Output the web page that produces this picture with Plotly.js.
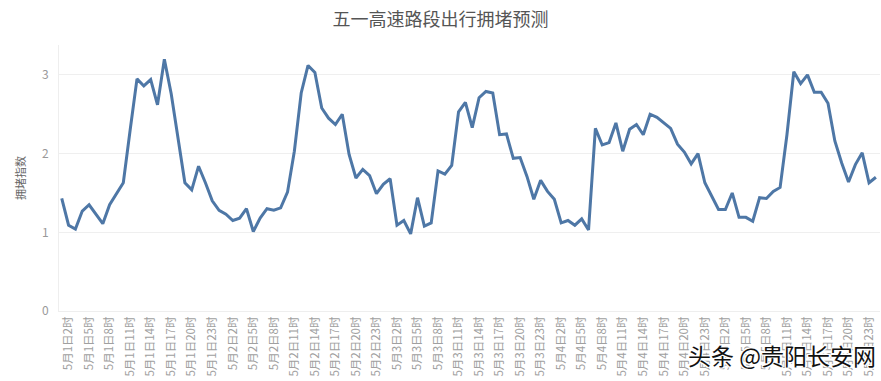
<!DOCTYPE html>
<html>
<head>
<meta charset="utf-8">
<script src="https://cdn.plot.ly/plotly-3.0.1.min.js"></script>
<style>html,body{margin:0;padding:0;background:#fff;}#chart{width:881px;height:381px;}</style>
</head>
<body>
<div id="chart"></div>
<script>
// Dates and hours (hourly, 5月1日1时 .. 5月5日24时)
const days = [1, 2, 3, 4, 5];
const hours = [1,2,3,4,5,6,7,8,9,10,11,12,13,14,15,16,17,18,19,20,21,22,23,24];
const tickHours = [2, 5, 8, 11, 14, 17, 20, 23];

// 拥堵指数 per hour
const day1 = [1.43,1.09,1.04,1.27,1.35,1.23,1.11,1.35,1.49,1.63,2.30,2.95,2.86,2.94,2.62,3.20,2.76,2.20,1.63,1.54,1.84,1.63,1.40,1.28];
const day2 = [1.23,1.15,1.18,1.30,1.01,1.18,1.30,1.28,1.31,1.51,2.03,2.77,3.12,3.03,2.58,2.45,2.37,2.50,1.99,1.69,1.80,1.72,1.49,1.61];
const day3 = [1.68,1.09,1.15,0.98,1.44,1.08,1.12,1.78,1.74,1.85,2.53,2.65,2.33,2.71,2.79,2.77,2.24,2.25,1.94,1.95,1.71,1.42,1.66,1.52];
const day4 = [1.42,1.12,1.15,1.09,1.17,1.03,2.32,2.11,2.14,2.39,2.03,2.31,2.37,2.24,2.50,2.46,2.39,2.32,2.12,2.02,1.87,2.00,1.63,1.46];
const day5 = [1.29,1.29,1.50,1.19,1.19,1.14,1.44,1.43,1.52,1.57,2.24,3.04,2.89,3.00,2.78,2.78,2.64,2.16,1.88,1.64,1.86,2.01,1.63,1.70];

const seriesByDay = [day1, day2, day3, day4, day5];
const xCats = [];
const yVals = [];
days.forEach((d, di) => {
  hours.forEach((h, hi) => {
    xCats.push('5月' + d + '日' + h + '时');
    yVals.push(seriesByDay[di][hi]);
  });
});
const tickCats = [];
days.forEach(d => tickHours.forEach(h => tickCats.push('5月' + d + '日' + h + '时')));

const font = '"Noto Sans CJK SC", "Noto Sans", sans-serif';

const trace = {
  type: 'scatter',
  mode: 'lines',
  x: xCats,
  y: yVals,
  line: {color: '#4e77a6', width: 3},
  hoverinfo: 'x+y'
};

const layout = {
  width: 881,
  height: 381,
  margin: {l: 59, r: 1, t: 45, b: 70},
  paper_bgcolor: '#ffffff',
  plot_bgcolor: '#ffffff',
  showlegend: false,
  font: {family: font, color: '#888'},
  title: {
    text: '五一高速路段出行拥堵预测',
    font: {family: font, size: 18, color: '#555'},
    x: 0.5, xref: 'container', xanchor: 'center',
    y: 1 - 20/381, yref: 'container', yanchor: 'middle'
  },
  xaxis: {
    type: 'category',
    range: [-0.4, 119.6],
    tickmode: 'array',
    tickvals: tickCats,
    ticktext: tickCats,
    tickangle: -90,
    ticks: '',
    tickfont: {family: font, size: 11.5, color: '#a0a0a0'},
    showgrid: false,
    zeroline: false,
    showline: true,
    linecolor: '#eeeeee',
    linewidth: 1,
    automargin: false
  },
  yaxis: {
    range: [0, 3.38],
    tickvals: [0, 1, 2, 3],
    ticktext: ['0', '1', '2', '3'],
    ticks: '',
    ticklabelstandoff: 7,
    tickfont: {family: font, size: 12, color: '#999'},
    showgrid: true,
    gridcolor: '#efefef',
    gridwidth: 1,
    zeroline: false,
    showline: true,
    linecolor: '#eeeeee',
    linewidth: 1,
    automargin: false,
    title: {
      text: '拥堵指数',
      font: {family: font, size: 11, color: '#666'},
      standoff: 14
    }
  },
  annotations: [{
    text: '头条 @贵阳长安网',
    xref: 'paper', yref: 'paper',
    x: 0.997, y: -0.165,
    xanchor: 'right', yanchor: 'middle',
    showarrow: false,
    font: {family: font, size: 23, color: '#111',
      shadow: '1px 1px 0 #fff, -1px -1px 0 #fff, 1px -1px 0 #fff, -1px 1px 0 #fff'}
  }]
};

Plotly.newPlot('chart', [trace], layout, {displayModeBar: false, staticPlot: true});
</script>
</body>
</html>
